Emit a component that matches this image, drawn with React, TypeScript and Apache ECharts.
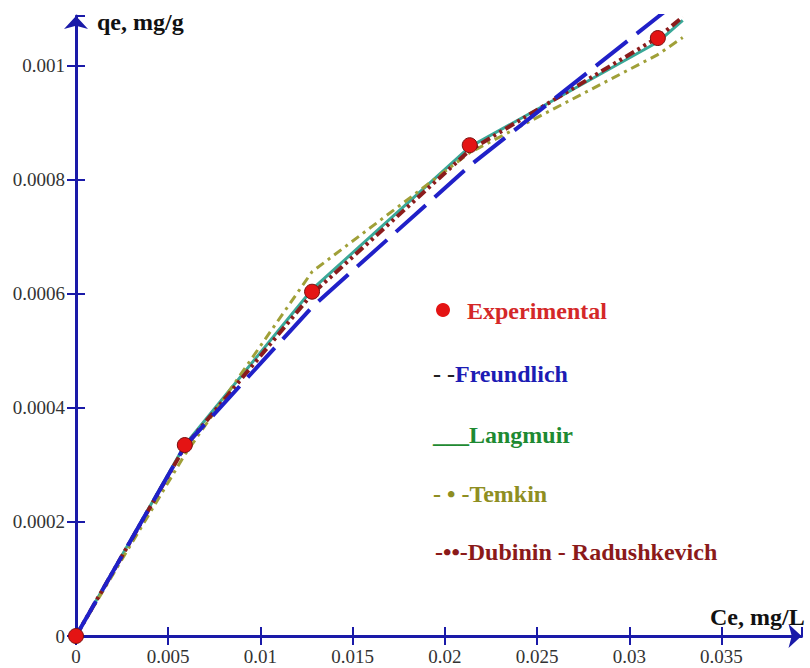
import React, { useEffect, useRef } from "react";
import * as echarts from "echarts";

// Experimental data
const expC = [0, 0.0059, 0.0128, 0.02135, 0.03155];
const expQ = [0, 0.000335, 0.000604, 0.000861, 0.001049];

// Fitted model curves
const fitC = [0, 0.0059, 0.0128, 0.02135, 0.03155, 0.0329];
const freundlichQ = [0, 0.000333, 0.000577, 0.000825, 0.001086, 0.00112];
const langmuirQ = [0, 0.000335, 0.000608, 0.000858, 0.001042, 0.00108];
const temkinQ = [0, 0.000318, 0.000639, 0.000848, 0.00102, 0.00105];
const drQ = [0, 0.000332, 0.0006, 0.000852, 0.00105, 0.001086];

const xTicks = { min: 0, max: 0.03934, interval: 0.005 };
const yTicks = { min: 0, max: 0.0010877, interval: 0.0002 };

const AXIS = "#1a1aa8";
const SERIF = "'Liberation Serif', 'Times New Roman', serif";

export default function App() {
  const ref = useRef<HTMLDivElement>(null);
  useEffect(() => {
    if (!ref.current) return;
    const chart = echarts.init(ref.current, undefined, { renderer: "svg" });
    const pair = (ys: number[]) => fitC.map((c, i) => [c, ys[i]]);
    const baseX = {
      type: "value" as const,
      min: xTicks.min,
      max: xTicks.max,
      interval: xTicks.interval,
      position: "bottom" as const,
      splitLine: { show: false },
    };
    const baseY = {
      type: "value" as const,
      min: yTicks.min,
      max: yTicks.max,
      interval: yTicks.interval,
      position: "left" as const,
      splitLine: { show: false },
    };
    const legendY = [311, 374, 435, 494, 552];
    chart.setOption({
      animation: false,
      backgroundColor: "#ffffff",
      grid: { left: 76, right: 8.5, top: 16, bottom: 32, containLabel: false },
      xAxis: [
        {
          ...baseX,
          axisLine: {
            show: true,
            symbol: ["none", "arrow"],
            symbolSize: [18, 13],
            lineStyle: { color: AXIS, width: 3 },
          },
          axisTick: { show: true, length: 9, lineStyle: { color: AXIS, width: 2 } },
          axisLabel: {
            fontFamily: SERIF,
            fontSize: 19,
            color: "#333",
            margin: 11,
            showMaxLabel: false,
          },
        },
        {
          ...baseX,
          axisLine: { show: false },
          axisTick: { show: true, inside: true, length: 9, lineStyle: { color: AXIS, width: 2 } },
          axisLabel: { show: false },
        },
      ],
      yAxis: [
        {
          ...baseY,
          axisLine: {
            show: true,
            symbol: ["none", "arrow"],
            symbolSize: [18, 13],
            lineStyle: { color: AXIS, width: 3 },
          },
          axisTick: { show: true, length: 9, lineStyle: { color: AXIS, width: 2 } },
          axisLabel: {
            fontFamily: SERIF,
            fontSize: 19,
            color: "#333",
            margin: 11,
            showMaxLabel: false,
          },
        },
        {
          ...baseY,
          axisLine: { show: false },
          axisTick: { show: true, inside: true, length: 9, lineStyle: { color: AXIS, width: 2 } },
          axisLabel: { show: false },
        },
      ],
      series: [
        {
          name: "Langmuir",
          type: "line",
          data: pair(langmuirQ),
          showSymbol: false,
          lineStyle: { color: "#3aa898", width: 3 },
          z: 2,
        },
        {
          name: "Temkin",
          type: "line",
          data: pair(temkinQ),
          showSymbol: false,
          lineStyle: { color: "#a0a038", width: 3, type: [9, 5, 3, 5] },
          z: 3,
        },
        {
          name: "Dubinin - Radushkevich",
          type: "line",
          data: pair(drQ),
          showSymbol: false,
          lineStyle: { color: "#8b1c1c", width: 4, type: [10, 4, 3, 4, 3, 4] },
          z: 4,
        },
        {
          name: "Freundlich",
          type: "line",
          data: pair(freundlichQ),
          showSymbol: false,
          lineStyle: { color: "#2020c8", width: 4, type: [40, 12] },
          z: 5,
        },
        {
          name: "Experimental",
          type: "scatter",
          data: expC.map((c, i) => [c, expQ[i]]),
          symbol: "circle",
          symbolSize: 15,
          itemStyle: { color: "#e41414", borderColor: "#7a1010", borderWidth: 1, opacity: 1 },
          z: 6,
        },
      ],
      graphic: [
        {
          type: "text",
          left: 97,
          top: 10,
          style: { text: "qe, mg/g", font: `bold 24px ${SERIF}`, fill: "#111" },
        },
        {
          type: "text",
          x: 710,
          y: 617,
          style: {
            text: "Ce, mg/L",
            font: `bold 24px ${SERIF}`,
            fill: "#111",
            verticalAlign: "middle",
          },
        },
        {
          type: "circle",
          shape: { cx: 443, cy: 310, r: 7 },
          style: { fill: "#e41414" },
        },
        {
          type: "text",
          x: 467,
          y: legendY[0],
          style: {
            text: "Experimental",
            font: `bold 24px ${SERIF}`,
            fill: "#d42828",
            verticalAlign: "middle",
          },
        },
        {
          type: "text",
          x: 433,
          y: legendY[1],
          style: {
            text: "{a|- -}{b|Freundlich}",
            verticalAlign: "middle",
            rich: {
              a: { font: `bold 24px ${SERIF}`, fill: "#222", color: "#222" },
              b: { font: `bold 24px ${SERIF}`, fill: "#1c1cb4", color: "#1c1cb4" },
            },
          },
        },
        {
          type: "text",
          x: 433,
          y: legendY[2],
          style: {
            text: "___Langmuir",
            font: `bold 24px ${SERIF}`,
            fill: "#1e8a32",
            verticalAlign: "middle",
          },
        },
        {
          type: "text",
          x: 433,
          y: legendY[3],
          style: {
            text: "- \u2022 -Temkin",
            font: `bold 24px ${SERIF}`,
            fill: "#8e8e22",
            verticalAlign: "middle",
          },
        },
        {
          type: "text",
          x: 435,
          y: legendY[4],
          style: {
            text: "-\u2022\u2022-Dubinin - Radushkevich",
            font: `bold 24px ${SERIF}`,
            fill: "#8b1a1a",
            verticalAlign: "middle",
          },
        },
      ],
    });
    return () => chart.dispose();
  }, []);
  return (
    <div
      ref={ref}
      style={{ position: "fixed", left: 0, top: 0, width: 810, height: 668, background: "#fff" }}
    />
  );
}
